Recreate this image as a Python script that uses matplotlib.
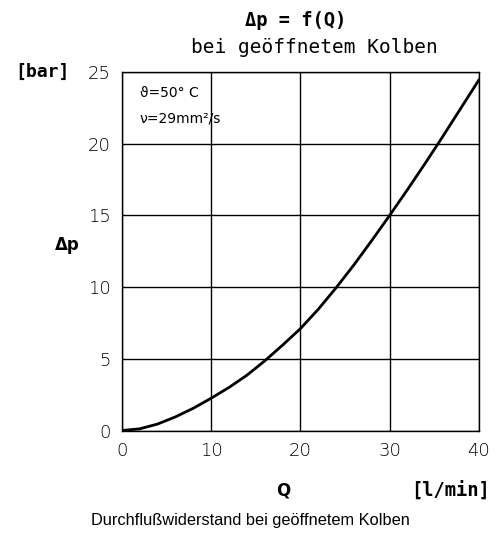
import matplotlib
matplotlib.use("Agg")
import matplotlib.pyplot as plt

# Data
Q = [0, 2, 4, 6, 8, 10, 12, 14, 16, 18, 20, 22, 24, 26, 28, 30, 32, 34, 36, 38, 40]
dp = [0, 0.12, 0.45, 0.95, 1.55, 2.25, 3.0, 3.85, 4.85, 5.95, 7.1, 8.45, 9.95, 11.55,
      13.25, 15.0, 16.8, 18.65, 20.55, 22.5, 24.45]
x_ticks = [0, 10, 20, 30, 40]
y_ticks = [0, 5, 10, 15, 20, 25]

fig = plt.figure(figsize=(5.01, 5.45), dpi=100)
ax = fig.add_axes([0.243, 0.210, 0.713, 0.658])

ax.plot(Q, dp, color="black", lw=2.0, solid_capstyle="round", solid_joinstyle="round")
ax.set_xlim(0, 40)
ax.set_ylim(0, 25)
ax.set_xticks(x_ticks)
ax.set_yticks(y_ticks)
ax.grid(True, color="black", lw=1.0)
for s in ax.spines.values():
    s.set_color("black")
    s.set_linewidth(1.0)
ax.tick_params(length=0, labelsize=13, pad=8, colors="black")
for lab in ax.get_xticklabels() + ax.get_yticklabels():
    lab.set_fontweight("light")

ax.text(0.05, 0.94, "ϑ=50° C", transform=ax.transAxes, fontsize=10, va="center")
ax.text(0.05, 0.87, "ν=29mm²/s", transform=ax.transAxes, fontsize=10, va="center")

fig.text(0.59, 0.963, "Δp = f(Q)", ha="center", va="center", fontsize=13.5,
         fontweight="bold", family="DejaVu Sans Mono")
fig.text(0.628, 0.913, "bei geöffnetem Kolben", ha="center", va="center",
         fontsize=14, family="DejaVu Sans Mono")
fig.text(0.085, 0.868, "[bar]", ha="center", va="center", fontsize=13,
         fontweight="bold", family="DejaVu Sans Mono")
fig.text(0.135, 0.55, "Δp", ha="center", va="center", fontsize=12, fontweight="bold")
fig.text(0.565, 0.1, "Q", ha="center", va="center", fontsize=12, fontweight="bold")
fig.text(0.9, 0.1, "[l/min]", ha="center", va="center", fontsize=13.5,
         fontweight="bold", family="DejaVu Sans Mono")
fig.text(0.5, 0.045, "Durchflußwiderstand bei geöffnetem Kolben", ha="center",
         va="center", fontsize=11.8, family="Liberation Sans")

fig.savefig("out.png", dpi=100)
